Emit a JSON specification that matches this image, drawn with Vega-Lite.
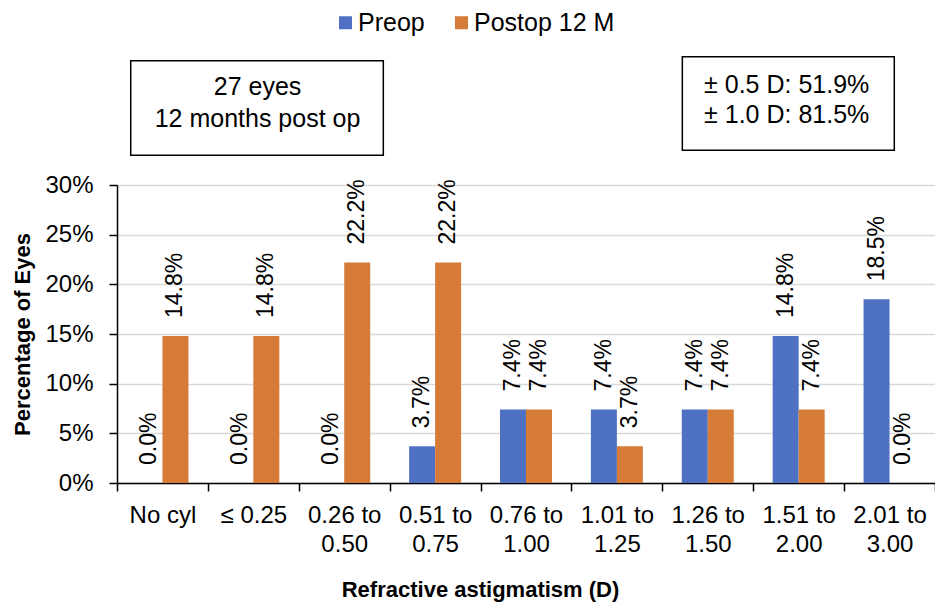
{
  "$schema": "https://vega.github.io/schema/vega-lite/v6.json",
  "width": 818,
  "height": 298,
  "autosize": {"type": "none"},
  "padding": {"left": 117, "top": 185, "right": 0, "bottom": 125},
  "background": "white",
  "config": {
    "font": "Liberation Sans",
    "view": {"stroke": null}
  },
  "datasets": {
    "bars": [
      {"cat": "No cyl", "series": "Preop", "pct": 0},
      {"cat": "No cyl", "series": "Postop 12 M", "pct": 0.148},
      {"cat": "≤ 0.25", "series": "Preop", "pct": 0},
      {"cat": "≤ 0.25", "series": "Postop 12 M", "pct": 0.148},
      {"cat": "0.26 to 0.50", "series": "Preop", "pct": 0},
      {"cat": "0.26 to 0.50", "series": "Postop 12 M", "pct": 0.222},
      {"cat": "0.51 to 0.75", "series": "Preop", "pct": 0.037},
      {"cat": "0.51 to 0.75", "series": "Postop 12 M", "pct": 0.222},
      {"cat": "0.76 to 1.00", "series": "Preop", "pct": 0.074},
      {"cat": "0.76 to 1.00", "series": "Postop 12 M", "pct": 0.074},
      {"cat": "1.01 to 1.25", "series": "Preop", "pct": 0.074},
      {"cat": "1.01 to 1.25", "series": "Postop 12 M", "pct": 0.037},
      {"cat": "1.26 to 1.50", "series": "Preop", "pct": 0.074},
      {"cat": "1.26 to 1.50", "series": "Postop 12 M", "pct": 0.074},
      {"cat": "1.51 to 2.00", "series": "Preop", "pct": 0.148},
      {"cat": "1.51 to 2.00", "series": "Postop 12 M", "pct": 0.074},
      {"cat": "2.01 to 3.00", "series": "Preop", "pct": 0.185},
      {"cat": "2.01 to 3.00", "series": "Postop 12 M", "pct": 0}
    ],
    "boxes": [
      {"bx1": 0.151, "bx2": 2.93, "by1": 0.425, "by2": 0.330},
      {"bx1": 6.22, "bx2": 8.552, "by1": 0.429, "by2": 0.335}
    ],
    "notes": [
      {"tx": 1.546, "ty": 0.399, "note": "27 eyes"},
      {"tx": 1.546, "ty": 0.366, "note": "12 months post op"},
      {"tx": 7.368, "ty": 0.401, "note": "± 0.5 D: 51.9%"},
      {"tx": 7.368, "ty": 0.370, "note": "± 1.0 D: 81.5%"}
    ]
  },
  "layer": [
    {
      "data": {"name": "bars"},
      "encoding": {
        "x": {
          "field": "cat",
          "type": "nominal",
          "sort": ["No cyl", "≤ 0.25", "0.26 to 0.50", "0.51 to 0.75", "0.76 to 1.00", "1.01 to 1.25", "1.26 to 1.50", "1.51 to 2.00", "2.01 to 3.00"],
          "scale": {"paddingInner": 0, "paddingOuter": 0},
          "axis": {
            "title": "Refractive astigmatism (D)",
            "tickBand": "extent",
            "tickSize": 8,
            "tickColor": "#000",
            "tickWidth": 1.5,
            "domainColor": "#000",
            "domainWidth": 1.5,
            "grid": false,
            "labelAngle": 0,
            "labelFontSize": 24,
            "labelColor": "#000",
            "labelLineHeight": 29,
            "labelPadding": 12,
            "labelOverlap": false,
            "labelBound": false,
            "labelBaseline": "top",
            "labelExpr": "indexof(datum.label, ' to ') > 0 ? [slice(datum.label, 0, indexof(datum.label, ' to ') + 3), slice(datum.label, indexof(datum.label, ' to ') + 4)] : datum.label",
            "titleFontSize": 22,
            "titleFontWeight": "bold",
            "titleColor": "#000",
            "titleX": 363,
            "titleY": 106,
            "titleAlign": "center",
            "titleBaseline": "middle"
          }
        },
        "xOffset": {
          "field": "series",
          "type": "nominal",
          "sort": ["Preop", "Postop 12 M"],
          "scale": {"paddingInner": 0, "paddingOuter": 0.748}
        },
        "y": {
          "field": "pct",
          "type": "quantitative",
          "scale": {"domain": [0, 0.3], "nice": false},
          "axis": {
            "values": [0, 0.05, 0.1, 0.15, 0.2, 0.25, 0.3],
            "format": ".0%",
            "grid": true,
            "gridColor": "#D9D9D9",
            "gridWidth": 1.3,
            "domainColor": "#000",
            "domainWidth": 1.5,
            "tickColor": "#000",
            "tickWidth": 1.5,
            "tickSize": 8,
            "labelFontSize": 24,
            "labelColor": "#000",
            "labelPadding": 16,
            "title": "Percentage of Eyes",
            "titleFontSize": 22,
            "titleFontWeight": "bold",
            "titleColor": "#000",
            "titlePadding": 10
          }
        }
      },
      "layer": [
        {
          "mark": {"type": "bar"},
          "encoding": {
            "color": {
              "field": "series",
              "type": "nominal",
              "sort": ["Preop", "Postop 12 M"],
              "scale": {"domain": ["Preop", "Postop 12 M"], "range": ["#4F71C4", "#D67B38"]},
              "legend": {
                "orient": "none",
                "legendX": 216,
                "legendY": -175,
                "direction": "horizontal",
                "title": null,
                "symbolType": "square",
                "symbolSize": 169,
                "symbolStrokeWidth": 0,
                "labelFontSize": 25,
                "labelColor": "#000",
                "labelOffset": 0,
                "columnPadding": 24,
                "padding": 0
              }
            }
          }
        },
        {
          "mark": {"type": "text", "angle": 270, "align": "left", "baseline": "middle", "dx": 18, "fontSize": 23, "color": "#000"},
          "encoding": {
            "text": {"field": "pct", "type": "quantitative", "format": ".1%"}
          }
        }
      ]
    },
    {
      "data": {"name": "boxes"},
      "mark": {"type": "rect", "fill": "white", "stroke": "#000", "strokeWidth": 1.5},
      "encoding": {
        "x": {"field": "bx1", "type": "quantitative", "scale": {"domain": [0, 9], "nice": false, "zero": false}, "axis": null},
        "x2": {"field": "bx2"},
        "y": {"field": "by1", "type": "quantitative", "scale": {"domain": [0, 0.3], "nice": false}, "axis": null},
        "y2": {"field": "by2"}
      }
    },
    {
      "data": {"name": "notes"},
      "mark": {"type": "text", "align": "center", "baseline": "middle", "fontSize": 25, "color": "#000"},
      "encoding": {
        "x": {"field": "tx", "type": "quantitative", "scale": {"domain": [0, 9], "nice": false, "zero": false}, "axis": null},
        "y": {"field": "ty", "type": "quantitative", "scale": {"domain": [0, 0.3], "nice": false}, "axis": null},
        "text": {"field": "note", "type": "nominal"}
      }
    }
  ],
  "resolve": {"scale": {"x": "independent", "y": "independent"}}
}
